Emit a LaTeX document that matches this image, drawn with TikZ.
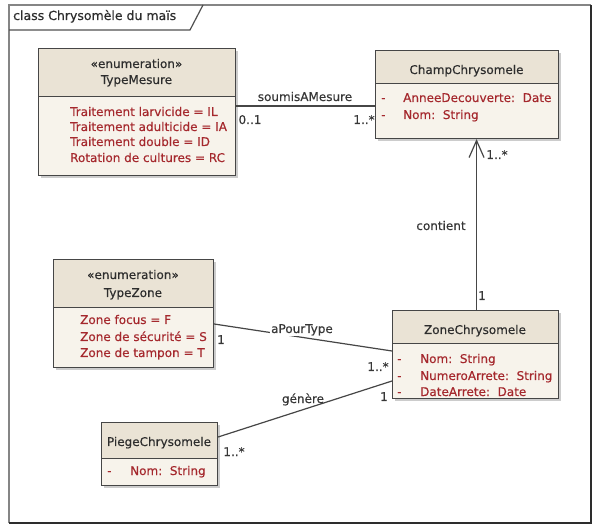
\documentclass[tikz,border=0pt]{standalone}
\usepackage{fontspec}
\setmainfont{DejaVu Sans}[FakeBold=0.4]
\usetikzlibrary{arrows.meta,shadows,calc}
\definecolor{boxline}{RGB}{70,70,70}
\definecolor{bodyfill}{RGB}{247,243,235}
\definecolor{hdrfill}{RGB}{234,227,213}
\definecolor{attrcol}{RGB}{165,40,45}
\definecolor{txtcol}{RGB}{45,45,45}
\definecolor{lblcol}{RGB}{55,55,55}
\definecolor{framecol}{RGB}{80,80,80}
\newcommand{\fs}{\fontsize{12}{15}\selectfont}
\tikzset{
  classbox/.style={draw=boxline, fill=bodyfill, line width=1.1pt, inner sep=0pt, anchor=north west,
    drop shadow={opacity=0.4, shadow xshift=2.5pt, shadow yshift=-2.5pt},
    path picture={
      \fill[hdrfill] (path picture bounding box.north west) rectangle ([yshift=-#1]path picture bounding box.north east);
      \draw[boxline, line width=1.1pt] ([yshift=-#1]path picture bounding box.north west) -- ([yshift=-#1]path picture bounding box.north east);
    }},
  title/.style={font=\fs, text=txtcol, inner sep=0pt, anchor=base},
  attr/.style={font=\fs, text=attrcol, inner sep=0pt, anchor=base west},
  lbl/.style={font=\fs, text=lblcol, inner sep=0pt, anchor=base},
  assoc/.style={draw=boxline, line width=1.2pt},
}
\begin{document}
\begin{tikzpicture}[x=1pt,y=-1pt]
\useasboundingbox (0,0) rectangle (597,526);
\fill[white] (0,0) rectangle (597,526);
% frame
\draw[framecol!70, line width=1.4pt] (9,523) -- (9,5) -- (591,5);
\draw[framecol!120, line width=1.6pt] (591,5) -- (591,523) -- (9,523);
\draw[framecol, line width=1.2pt] (9,30) -- (190,30) -- (203,5);
\node[font=\fontsize{12.5}{15}\selectfont, text=txtcol, inner sep=0pt, anchor=base west] (frametitle) at (13,20) {class Chrysomèle du maïs};

% TypeMesure
\node[classbox=48pt, minimum width=197pt, minimum height=127pt] (tm) at (38,48) {};
\node[title] (tmst) at (136.5,68) {«enumeration»};
\node[title] (tmnm) at (136.5,84) {TypeMesure};
\node[attr] (tma1) at (70,116) {Traitement larvicide = IL};
\node[attr] (tma2) at (70,131) {Traitement adulticide = IA};
\node[attr] (tma3) at (70,146) {Traitement double = ID};
\node[attr] (tma4) at (70,162) {Rotation de cultures = RC};

% ChampChrysomele
\node[classbox=33pt, minimum width=183pt, minimum height=88pt] (cc) at (375,50) {};
\node[title] (ccnm) at (466.5,74) {ChampChrysomele};
\node[attr] (ccd1) at (381,102) {-};
\node[attr] (cca1) at (403,102) {AnneeDecouverte:\ \ Date};
\node[attr] (ccd2) at (381,119) {-};
\node[attr] (cca2) at (403,119) {Nom:\ \ String};

% TypeZone
\node[classbox=48pt, minimum width=160pt, minimum height=108pt] (tz) at (53,259) {};
\node[title] (tzst) at (133,279) {«enumeration»};
\node[title] (tznm) at (133,297) {TypeZone};
\node[attr] (tza1) at (80,324) {Zone focus = F};
\node[attr] (tza2) at (80,341) {Zone de sécurité = S};
\node[attr] (tza3) at (80,357) {Zone de tampon = T};

% ZoneChrysomele
\node[classbox=33pt, minimum width=166pt, minimum height=88pt] (zc) at (392,310) {};
\node[title] (zcnm) at (475,334) {ZoneChrysomele};
\node[attr] (zcd1) at (397,363) {-};
\node[attr] (zca1) at (420,363) {Nom:\ \ String};
\node[attr] (zcd2) at (397,380) {-};
\node[attr] (zca2) at (420,380) {NumeroArrete:\ \ String};
\node[attr] (zcd3) at (397,396) {-};
\node[attr] (zca3) at (420,396) {DateArrete:\ \ Date};

% PiegeChrysomele
\node[classbox=36pt, minimum width=116pt, minimum height=63pt] (pc) at (101,422) {};
\node[title] (pcnm) at (159,446) {PiegeChrysomele};
\node[attr] (pcd1) at (107,475) {-};
\node[attr] (pca1) at (130,475) {Nom:\ \ String};

% soumisAMesure
\draw[assoc] (tm.east |- 0,106) -- (cc.west |- 0,106);
\node[lbl] (l1) at (305,101) {soumisAMesure};
\node[lbl] (m1a) at (250,124) {0..1};
\node[lbl] (m1b) at (364,124) {1..*};

% contient
\coordinate (zctop) at ($(zc.north)+(1,0)$);
\draw[assoc, -{Straight Barb[length=17pt, width=15pt, line width=1.2pt]}] (zctop) -- (cc.south -| zctop);
\node[lbl] (l2) at (441,230) {contient};
\node[lbl] (m2a) at (497,159) {1..*};
\node[lbl] (m2b) at (482,300) {1};

% aPourType
\draw[assoc] (tz.east |- 0,324) -- (zc.west |- 0,351);
\node[lbl, fill=white, inner sep=1pt] (l3) at (302,333) {aPourType};
\node[lbl] (m3a) at (221,344) {1};
\node[lbl] (m3b) at (378,371) {1..*};

% genere
\draw[assoc] (zc.west |- 0,381) -- (pc.east |- 0,437);
\node[lbl] (l4) at (303,403) {génère};
\node[lbl] (m4a) at (384,401) {1};
\node[lbl] (m4b) at (234,456) {1..*};
\end{tikzpicture}
\end{document}
